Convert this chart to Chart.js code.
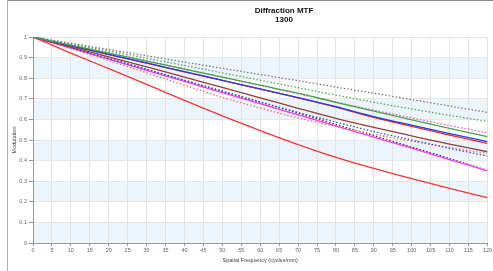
<!DOCTYPE html>
<html>
<head>
<meta charset="utf-8">
<script src="https://cdn.jsdelivr.net/npm/chart.js@4/dist/chart.umd.min.js"></script>
<style>
html,body{margin:0;padding:0;background:#fff;}
#wrap{position:relative;width:493px;height:271px;}
canvas{position:absolute;left:0;top:0;}
</style>
</head>
<body>
<div id="wrap"><canvas id="c" width="493" height="271"></canvas></div>
<script>
const titleLines = ["Diffraction MTF", "1300"];
const xTitle = "Spatial Frequency (cycles/mm)";
const yTitle = "Modulation";

const freq = [0,10,20,30,40,50,60,70,80,90,100,110,120];

const grayDot      = [1,0.970,0.939,0.909,0.878,0.848,0.818,0.788,0.757,0.727,0.696,0.665,0.634];
const greenDot     = [1,0.966,0.932,0.897,0.862,0.826,0.790,0.754,0.718,0.683,0.651,0.620,0.590];
const greenSolid   = [1,0.961,0.922,0.883,0.844,0.805,0.766,0.727,0.683,0.640,0.598,0.556,0.516];
const magentaDot   = [1,0.962,0.924,0.885,0.845,0.805,0.764,0.724,0.684,0.645,0.607,0.570,0.535];
const blueSolid    = [1,0.958,0.916,0.874,0.832,0.790,0.748,0.706,0.662,0.614,0.572,0.531,0.492];
const redSolid     = [1,0.957,0.915,0.873,0.831,0.789,0.747,0.705,0.660,0.610,0.566,0.524,0.484];
const brownSolid   = [1,0.952,0.903,0.855,0.805,0.755,0.705,0.654,0.605,0.561,0.520,0.480,0.443];
const blueDot      = [1,0.948,0.896,0.843,0.790,0.737,0.685,0.634,0.587,0.541,0.500,0.460,0.422];
const salmonDot    = [1,0.943,0.886,0.826,0.766,0.707,0.655,0.607,0.566,0.528,0.494,0.463,0.435];
const magentaSolid = [1,0.946,0.892,0.838,0.784,0.730,0.676,0.622,0.568,0.514,0.460,0.405,0.350];
const darkDot      = [1,0.948,0.895,0.843,0.790,0.737,0.684,0.630,0.576,0.521,0.466,0.410,0.352];
const redLow       = [1,0.922,0.846,0.770,0.692,0.617,0.546,0.478,0.416,0.362,0.312,0.265,0.220];

const FONT = "'Liberation Sans',Arial,sans-serif";

function mk(vals, color, dotted) {
  return {
    data: freq.map((f,i)=>({x:f, y:vals[i]})),
    borderColor: color,
    borderWidth: dotted ? 1.3 : 1.3,
    borderDash: dotted ? [1.5,2] : [],
    pointRadius: 0,
    fill: false,
    tension: 0,
    cubicInterpolationMode: 'monotone'
  };
}

const datasets = [
  mk(grayDot, 'rgb(120,120,120)', true),
  mk(greenDot, 'rgb(80,170,80)', true),
  mk(greenSolid, 'rgb(70,165,70)', false),
  mk(magentaDot, 'rgb(240,80,240)', true),
  mk(blueSolid, 'rgb(40,60,225)', false),
  mk(redSolid, 'rgb(225,40,40)', false),
  mk(brownSolid, 'rgb(150,60,60)', false),
  mk(blueDot, 'rgb(50,80,230)', true),
  mk(salmonDot, 'rgb(245,110,110)', true),
  mk(magentaSolid, 'rgb(235,60,235)', false),
  mk(darkDot, 'rgb(100,40,70)', true),
  mk(redLow, 'rgb(240,55,55)', false)
];

const bandsPlugin = {
  id: 'bands',
  beforeDraw(chart) {
    const {ctx, chartArea, scales} = chart;
    ctx.save();
    ctx.fillStyle = 'rgb(237,245,252)';
    for (let v = 0; v < 1; v += 0.2) {
      const y1 = scales.y.getPixelForValue(v);
      const y2 = scales.y.getPixelForValue(v + 0.1);
      ctx.fillRect(chartArea.left, y2, chartArea.right - chartArea.left, y1 - y2);
    }
    ctx.restore();
  }
};

const framePlugin = {
  id: 'frame',
  afterDraw(chart) {
    const ctx = chart.ctx;
    ctx.save();
    ctx.strokeStyle = '#8a8a8a';
    ctx.lineWidth = 1;
    ctx.beginPath();
    ctx.moveTo(7, 0.5); ctx.lineTo(493, 0.5);
    ctx.stroke();
    ctx.strokeStyle = '#b0b0b0';
    ctx.beginPath();
    ctx.moveTo(7.5, 0); ctx.lineTo(7.5, 271);
    ctx.stroke();
    ctx.fillStyle = '#111';
    ctx.font = "bold 8px " + FONT;
    ctx.textAlign = 'center';
    ctx.textBaseline = 'middle';
    ctx.fillText(titleLines[0], 284, 10.5);
    ctx.fillText(titleLines[1], 284, 19.5);
    ctx.restore();
  }
};

new Chart(document.getElementById('c'), {
  type: 'line',
  data: { datasets },
  plugins: [bandsPlugin, framePlugin],
  options: {
    responsive: false,
    animation: false,
    devicePixelRatio: 1,
    layout: { padding: { top: 37, right: 4, left: 0, bottom: 0 } },
    plugins: { legend: { display: false }, title: { display: false }, tooltip: { enabled: false } },
    scales: {
      x: {
        type: 'linear', min: 0, max: 120,
        ticks: { stepSize: 5, autoSkip: false, maxRotation: 0, padding: 1, color: '#666', font: { family: FONT, size: 5.5 } },
        grid: { color: '#e2e2e2', tickColor: '#999', tickLength: 3 },
        border: { color: '#999' },
        title: { display: true, text: xTitle, color: '#444', font: { family: FONT, size: 5.5 }, padding: { top: 7.5, bottom: 7.5 } },
        afterFit(s) { s.height = 28; }
      },
      y: {
        type: 'linear', min: 0, max: 1,
        ticks: { stepSize: 0.1, padding: 2, color: '#666', font: { family: FONT, size: 5.5 },
                 callback: v => String(+v.toFixed(1)) },
        grid: { color: '#e6e6e6', tickColor: '#999', tickLength: 4 },
        border: { color: '#999' },
        title: { display: true, text: yTitle, color: '#444', font: { family: FONT, size: 5.5 }, padding: { top: 11, bottom: 11 } },
        afterFit(s) { s.width = 33; }
      }
    }
  }
});
</script>
</body>
</html>
